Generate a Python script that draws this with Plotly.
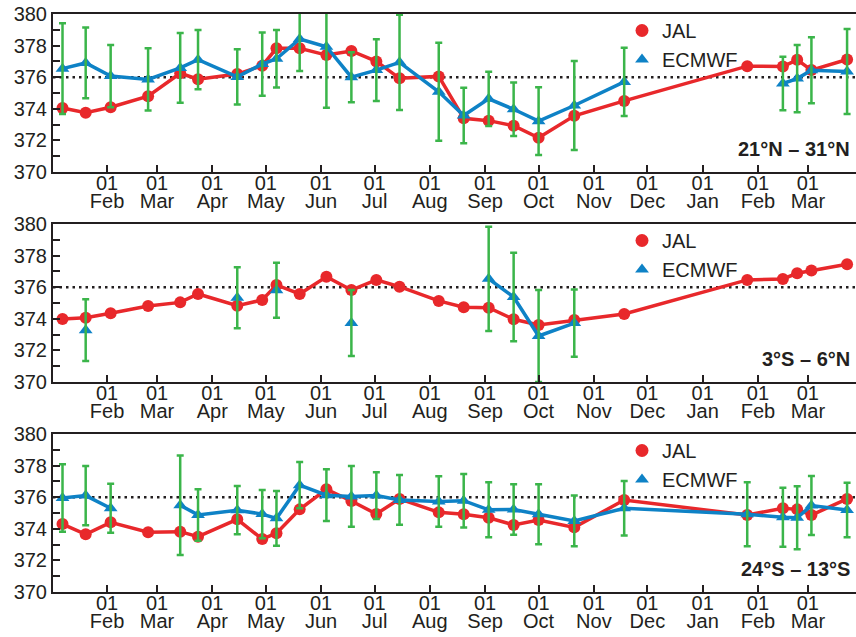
import plotly.graph_objects as go

# Sampling dates shared by all three latitude bands (Jan 2002 - Mar 2003)
DATES = ["2002-01-07", "2002-01-20", "2002-02-03", "2002-02-24", "2002-03-14", "2002-03-24",
         "2002-04-15", "2002-04-29", "2002-05-07", "2002-05-20", "2002-06-04", "2002-06-18",
         "2002-07-02", "2002-07-15", "2002-08-06", "2002-08-20", "2002-09-03", "2002-09-17",
         "2002-10-01", "2002-10-21", "2002-11-18", "2003-01-26", "2003-02-15", "2003-02-23",
         "2003-03-03", "2003-03-23"]

# 21°N - 31°N
JAL_N = [374.05, 373.75, 374.10, 374.80, 376.25, 375.87, 376.20, 376.73, 377.83, 377.83,
         377.40, 377.66, 377.00, 375.93, 376.05, 373.40, 373.25, 372.93, 372.17, 373.56,
         374.50, 376.70, 376.67, 377.10, 376.45, 377.12]
ECMWF_N = [376.54, 376.90, 376.07, 375.86, 376.59, 377.11, 376.02, 376.83, 377.17, 378.42,
           377.93, 376.00, 376.45, 376.94, 375.08, 373.58, 374.63, 373.97, 373.22, 374.21,
           375.70, None, 375.60, 375.91, 376.44, 376.36]
ERR_N = [2.87, 2.24, 1.97, 1.97, 2.20, 1.88, 1.75, 2.00, 1.82, 2.03,
         3.86, 1.58, 1.95, 3.02, 3.10, 1.76, 1.72, 1.69, 2.14, 2.82,
         2.16, None, 1.69, 2.13, 2.09, 2.69]

# 3°S - 6°N
JAL_EQ = [373.99, 374.07, 374.35, 374.81, 375.04, 375.57, 374.83, 375.19, 376.14, 375.57,
          376.66, 375.82, 376.46, 376.03, 375.13, 374.73, 374.70, 373.97, 373.61, 373.92,
          374.30, 376.46, 376.52, 376.88, 377.05, 377.45]
ECMWF_EQ = [None, 373.28, None, None, None, None, 375.33, None, 375.81, None,
            None, 373.73, None, None, None, None, 376.53, 375.38, 372.91, 373.73,
            None, None, None, None, None, None]
ERR_EQ = [None, 1.95, None, None, None, None, 1.93, None, 1.74, None,
          None, 2.09, None, None, None, None, 3.30, 2.80, 2.91, 2.13,
          None, None, None, None, None, None]

# 24°S - 13°S
JAL_S = [374.30, 373.65, 374.41, 373.78, 373.82, 373.50, 374.60, 373.35, 373.72, 375.23,
         376.50, 375.76, 374.94, 375.89, 375.04, 374.92, 374.70, 374.24, 374.56, 374.09,
         375.82, 374.87, 375.30, 375.23, 374.87, 375.89]
ECMWF_S = [375.95, 376.10, 375.30, None, 375.49, 374.88, 375.18, 374.93, 374.66, 376.76,
           376.13, 376.05, 376.10, 375.83, 375.73, 375.78, 375.20, 375.22, 374.92, 374.50,
           375.30, 374.92, 374.73, 374.70, 375.47, 375.19]
ERR_S = [2.13, 1.87, 1.55, None, 3.15, 1.63, 1.53, 1.53, 1.73, 1.46,
         1.64, 1.92, 1.48, 1.58, 1.60, 1.69, 1.74, 1.60, 1.90, 1.60,
         1.73, 2.02, 1.87, 2.00, 1.87, 1.73]

BANDS = ["21°N – 31°N", "3°S – 6°N", "24°S – 13°S"]
SERIES = [(JAL_N, ECMWF_N, ERR_N), (JAL_EQ, ECMWF_EQ, ERR_EQ), (JAL_S, ECMWF_S, ERR_S)]

REF_LEVEL = 376
Y_TICKS = [370, 372, 374, 376, 378, 380]
X_TICKVALS = ["2002-02-01", "2002-03-01", "2002-04-01", "2002-05-01", "2002-06-01",
              "2002-07-01", "2002-08-01", "2002-09-01", "2002-10-01", "2002-11-01",
              "2002-12-01", "2003-01-01", "2003-02-01", "2003-03-01"]
DAY_LABELS = ["01"] * len(X_TICKVALS)
MONTH_LABELS = ["Feb", "Mar", "Apr", "May", "Jun", "Jul", "Aug", "Sep", "Oct", "Nov",
                "Dec", "Jan", "Feb", "Mar"]
X_RANGE = ["2002-01-01 16:00", "2003-03-28"]

RED = "#e8282b"
BLUE = "#0e82c6"
GREEN = "#3bb54a"
INK = "#231f20"
FONT = "Liberation Sans, Arial, Helvetica, sans-serif"

W, H = 856, 637
M_T, M_B, M_L, M_R = 14, 45, 53, 0
DOMAINS = [[0.72664, 1.0], [0.36332, 0.63668], [0.0, 0.27336]]

fig = go.Figure()

for i, (jal, ecm, err) in enumerate(SERIES):
    n = i + 1
    sfx = "" if n == 1 else str(n)
    xa, ya = f"x{sfx}", f"y{sfx}"
    xm = f"x{n + 3}"          # companion axis carrying the month names
    lg = f"legend{sfx}"

    fig.add_trace(go.Scatter(
        x=DATES, y=jal, xaxis=xa, yaxis=ya, mode="lines+markers",
        line=dict(color=RED, width=3.5), marker=dict(color=RED, size=12, symbol="circle"),
        connectgaps=False, showlegend=False, name="JAL"))
    fig.add_trace(go.Scatter(
        x=DATES, y=ecm, xaxis=xa, yaxis=ya, mode="lines+markers",
        line=dict(color=BLUE, width=3.5), marker=dict(color=BLUE, size=12, symbol="triangle-up"),
        connectgaps=False, showlegend=False, name="ECMWF"))
    # spread of the model values, drawn above both lines
    fig.add_trace(go.Scatter(
        x=DATES, y=ecm, xaxis=xa, yaxis=ya, mode="markers",
        marker=dict(size=1, opacity=0),
        error_y=dict(type="data", array=err, visible=True, color=GREEN, thickness=2.5, width=3.5),
        showlegend=False, hoverinfo="skip"))

    # legend entries (symbol only)
    fig.add_trace(go.Scatter(
        x=[None], y=[None], xaxis=xm, yaxis=ya, mode="markers", name="JAL", legend=lg,
        marker=dict(color=RED, size=13, symbol="circle")))
    fig.add_trace(go.Scatter(
        x=[None], y=[None], xaxis=xm, yaxis=ya, mode="markers", name="ECMWF", legend=lg,
        marker=dict(color=BLUE, size=12, symbol="triangle-up")))

    tickfont = dict(family=FONT, size=20, color=INK)
    fig.layout[f"xaxis{sfx}"] = dict(
        domain=[0, 1], anchor=ya, type="date", range=X_RANGE,
        tickvals=X_TICKVALS, ticktext=DAY_LABELS, tickangle=0,
        ticks="inside", ticklen=7, tickwidth=2, tickcolor=INK,
        showline=True, linewidth=2, linecolor=INK, mirror=True,
        showgrid=False, zeroline=False, ticklabelstandoff=-8, tickfont=tickfont)
    fig.layout[f"xaxis{n + 3}"] = dict(
        domain=[0, 1], anchor=ya, overlaying=xa, side="bottom", type="date", range=X_RANGE,
        tickvals=X_TICKVALS, ticktext=MONTH_LABELS, tickangle=0,
        ticks="", showline=False, showgrid=False, zeroline=False,
        ticklabelstandoff=15, tickfont=tickfont)
    fig.layout[f"yaxis{sfx}"] = dict(
        domain=DOMAINS[i], anchor=xa, range=[370, 380],
        tickvals=Y_TICKS, ticks="inside", ticklen=7, tickwidth=2, tickcolor=INK,
        minor=dict(dtick=1, tick0=370, ticks="inside", ticklen=7, tickwidth=2, tickcolor=INK),
        showline=True, linewidth=2, linecolor=INK,
        showgrid=False, zeroline=False, tickfont=tickfont)

    # reference level
    fig.add_shape(type="line", xref=f"{xa} domain", yref=ya, x0=0, x1=1,
                  y0=REF_LEVEL, y1=REF_LEVEL,
                  line=dict(color=INK, width=2.5, dash="2.5px,4px"), layer="below")

    # latitude band label
    fig.add_annotation(text=f"<b>{BANDS[i]}</b>", xref=f"{xa} domain", yref=f"{ya} domain",
                       x=0.9946, y=0.146, xanchor="right", yanchor="middle", showarrow=False,
                       font=dict(family=FONT, size=20, color=INK))

    top_px = [14, 224, 434][i]
    fig.layout[lg] = dict(
        xref="container", yref="container",
        x=622 / W, y=1 - (top_px - 3) / H, xanchor="left", yanchor="top",
        bgcolor="rgba(0,0,0,0)", borderwidth=0, itemwidth=30,
        font=dict(family=FONT, size=20, color=INK), tracegroupgap=0)

fig.update_layout(
    width=W, height=H,
    margin=dict(t=M_T, b=M_B, l=M_L, r=M_R, autoexpand=False),
    paper_bgcolor="white", plot_bgcolor="white",
    font=dict(family=FONT, color=INK),
)

fig.write_html("out.html")
